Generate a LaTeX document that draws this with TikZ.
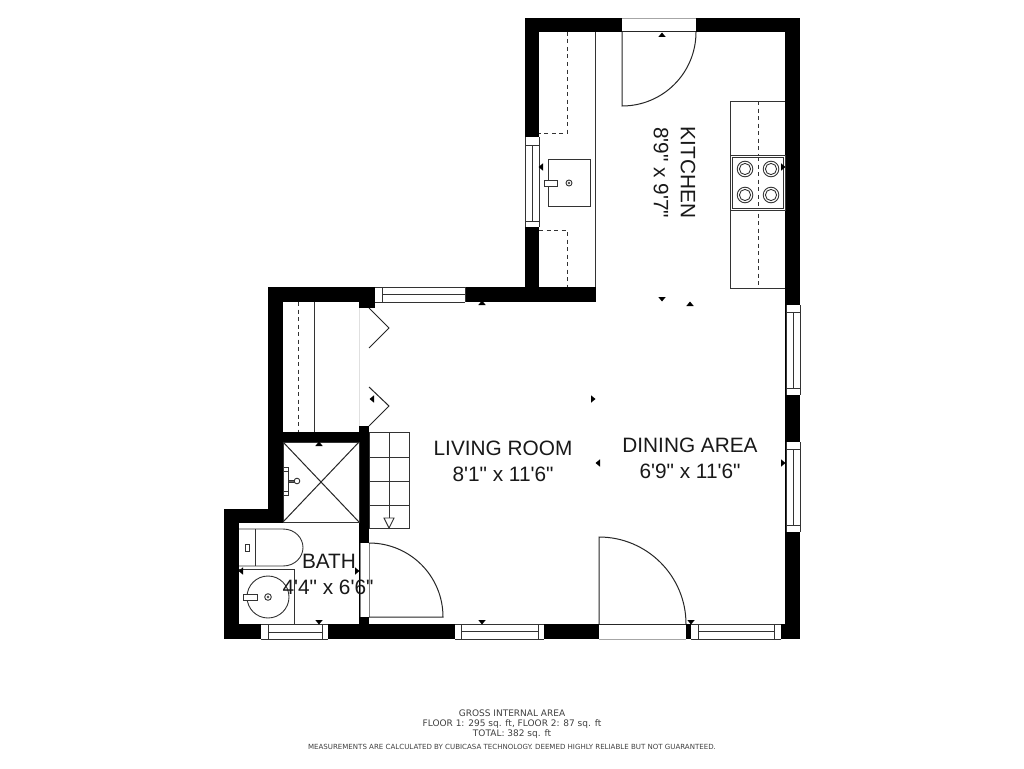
\documentclass[tikz,border=0pt]{standalone}
\usepackage{fontspec}
\newfontfamily\lblfont{Liberation Sans}
\newfontfamily\footfont{DejaVu Sans}
\definecolor{ln}{HTML}{333333}
\tikzset{
 wall/.style={fill=black,draw=none},
 thin line/.style={draw=ln,line width=0.9pt},
 door line/.style={draw=black!85,line width=1pt},
 dash line/.style={draw=ln,line width=0.8pt,dash pattern=on 4pt off 3.5pt},
 blank/.style={fill=white,draw=none},
 label/.style={font=\lblfont\fontsize{20.8}{24}\selectfont,text=black!90,inner sep=0pt,align=center},
 foot/.style={font=\footfont\fontsize{9}{11}\selectfont,text=black!75,inner sep=0pt},
 footsmall/.style={font=\footfont\fontsize{7.05}{9}\selectfont,text=black!75,inner sep=0pt}
}
\newcommand\rct[5][wall]{\path[#1] (#2,#3) rectangle (#4,#5);}
% horizontal window: x0, frame1, frame2, x1, y0, ymid, y1
\newcommand\hwin[7]{\path[blank] (#1,#5) rectangle (#4,#7);\draw[thin line] (#1,#5)--(#4,#5) (#1,#7)--(#4,#7) (#2,#5)--(#2,#7) (#3,#5)--(#3,#7) (#2,#6)--(#3,#6);}
\newcommand\vwin[7]{\path[blank] (#5,#1) rectangle (#7,#4);\draw[thin line] (#5,#1)--(#5,#4) (#7,#1)--(#7,#4) (#5,#2)--(#7,#2) (#5,#3)--(#7,#3) (#6,#2)--(#6,#3);}
\newcommand\triu[2]{\fill[black] (#1-3.7,#2+2)--(#1+3.7,#2+2)--(#1,#2-2.5)--cycle;}
\newcommand\trid[2]{\fill[black] (#1-3.7,#2-2)--(#1+3.7,#2-2)--(#1,#2+2.5)--cycle;}
\newcommand\tril[2]{\fill[black] (#1+2,#2-3.7)--(#1+2,#2+3.7)--(#1-2.5,#2)--cycle;}
\newcommand\trir[2]{\fill[black] (#1-2,#2-3.7)--(#1-2,#2+3.7)--(#1+2.5,#2)--cycle;}
\begin{document}
\begin{tikzpicture}[x=1pt,y=-1pt]
\useasboundingbox[fill=white] (0,0) rectangle (1024,768);
% walls
\rct{525}{18}{800}{32}
\rct{525}{18}{539}{302}
\rct{785}{18}{800}{639}
\rct{268}{287}{596}{302}
\rct{268}{287}{283}{523}
\rct{224}{509}{283}{523}
\rct{224}{509}{239}{639}
\rct{224}{624}{800}{639}
\rct{283}{432}{369}{442}
\rct{359}{302}{375}{308}
\rct{359}{426}{369}{624}
% openings
\rct[blank]{622}{18}{696}{32}
\rct[blank]{599}{624}{686}{639}
\rct[blank]{360}{543}{369}{617}
\draw[draw=black!35,line width=0.6pt] (622,18)--(696,18) (599,639)--(686,639);
\draw[draw=black!50,line width=0.7pt] (360,543)--(360,617) (369,543)--(369,617);
\hwin{375}{382}{465}{465}{287}{294}{302}
\vwin{137}{145}{221}{227}{525}{532}{539}
\vwin{305}{312}{388}{395}{786}{793}{800}
\vwin{442}{449}{525}{532}{786}{793}{800}
\hwin{261}{268}{322}{328}{624}{632}{639}
\hwin{455}{461}{538}{544}{624}{631}{639}
\hwin{691}{698}{774}{781}{624}{631}{639}
\draw[draw=black!12,line width=0.6pt] (359.5,308)--(359.5,426);
% kitchen left counter
\draw[thin line] (595,32)--(595,287);
\draw[dash line] (567,32)--(567,133)--(539,133);
\draw[dash line] (539,230)--(567,230)--(567,287);
\rct[thin line]{548}{159}{590}{206}
\rct[thin line,fill=white]{544}{180}{557}{186}
\draw[thin line] (569,183) circle (3);
\fill[black!70] (569,183) circle (1.3);
% kitchen right counter
\draw[thin line] (785,101)--(730,101)--(730,288)--(785,288);
\draw[dash line] (758,101)--(758,288);
\rct[thin line,fill=white]{730}{155}{785}{210}
\rct[thin line]{732}{157}{783}{208}
\draw[dash line] (758,157)--(758,208);
\foreach \bx/\by in {745/169,771/169,745/195,771/195}{
 \draw[thin line,fill=white] (\bx,\by) circle (7.8);
 \draw[thin line] (\bx,\by) circle (5.6);
}
% kitchen door
\draw[door line] (622,32)--(696,32);
\draw[door line] (622,32)--(622,106) .. controls (663,106) and (696,73) .. (696,32);
% closet
\draw[thin line] (314,302)--(314,432);
\draw[dash line] (298,302)--(298,432);
\draw[door line] (369,308)--(389,328)--(369,348);
\draw[door line] (369,387)--(389,406)--(369,426);
% shower
\rct[thin line]{283}{442}{359}{522}
\draw[door line] (283,442)--(359,522) (283,522)--(359,442);
\rct[thin line,fill=white]{283}{467}{288}{495}
\draw[thin line] (283,471)--(288,471) (283,491)--(288,491);
\draw[thin line,fill=black!60] (288,480)--(294,480)--(294,482)--(288,482)--cycle;
\draw[thin line,fill=white] (297,481) circle (2.8);
% stairs
\rct[thin line]{369}{432}{409}{528}
\draw[thin line] (389,432)--(389,528);
\foreach \sy in {457,481,505}{\draw[thin line] (369,\sy)--(409,\sy);}
\draw[thin line,fill=white] (384,518)--(394,518)--(389,528)--cycle;
% toilet
\draw[thin line] (239,529)--(283,529) .. controls (295,529) and (303,538) .. (303,547.5) .. controls (303,557) and (295,566) .. (283,566)--(239,566);
\draw[thin line] (255,529)--(255,566);
\rct[thin line]{245}{544}{249}{551}
% vanity
\draw[thin line] (239,569)--(294,569)--(294,624);
\draw[thin line] (268,597) circle (21);
\rct[thin line,fill=white]{243}{594}{257}{600}
\draw[thin line] (268,597) circle (3.3);
\fill[black!70] (268,597) circle (1.4);
% bath door
\draw[door line] (369,617)--(443,617) .. controls (443,576) and (410,543) .. (369,543);
% entry door
\draw[door line] (599,624)--(686,624);
\draw[door line] (599,624)--(599,537) .. controls (647,537) and (686,576) .. (686,624);
% dimension marks
\triu{662}{35}
\tril{541}{167}
\trir{783}{167}
\trid{662}{299}
\triu{690}{304}
\triu{482}{303}
\tril{372}{399}
\triu{319}{444}
\trir{593}{399}
\tril{598}{463}
\trir{783}{463}
\tril{241}{571}
\trir{357}{571}
\trid{319}{622}
\trid{482}{622}
\trid{691}{622}
% labels
\node[label,rotate=-90] (kitchen) at (688,172.5) {KITCHEN};
\node[label,rotate=-90] (kitchendim) at (661,172.5) {8'9" x 9'7"};
\node[label] (living) at (503,448) {LIVING ROOM};
\node[label] (livingdim) at (503,474) {8'1" x 11'6"};
\node[label] (dining) at (690,445) {DINING AREA};
\node[label] (diningdim) at (690,471) {6'9" x 11'6"};
\node[label] (bath) at (329,561) {BATH};
\node[label] (bathdim) at (328,587) {4'4" x 6'6"};
\node[foot] (f1) at (512,713.5) {GROSS INTERNAL AREA};
\node[foot] (f2) at (512,723.8) {FLOOR 1: 295 sq. ft, FLOOR 2: 87 sq. ft};
\node[foot] (f3) at (512,734.5) {TOTAL: 382 sq. ft};
\node[footsmall] (f4) at (512,746.5) {MEASUREMENTS ARE CALCULATED BY CUBICASA TECHNOLOGY. DEEMED HIGHLY RELIABLE BUT NOT GUARANTEED.};
\end{tikzpicture}
\end{document}
